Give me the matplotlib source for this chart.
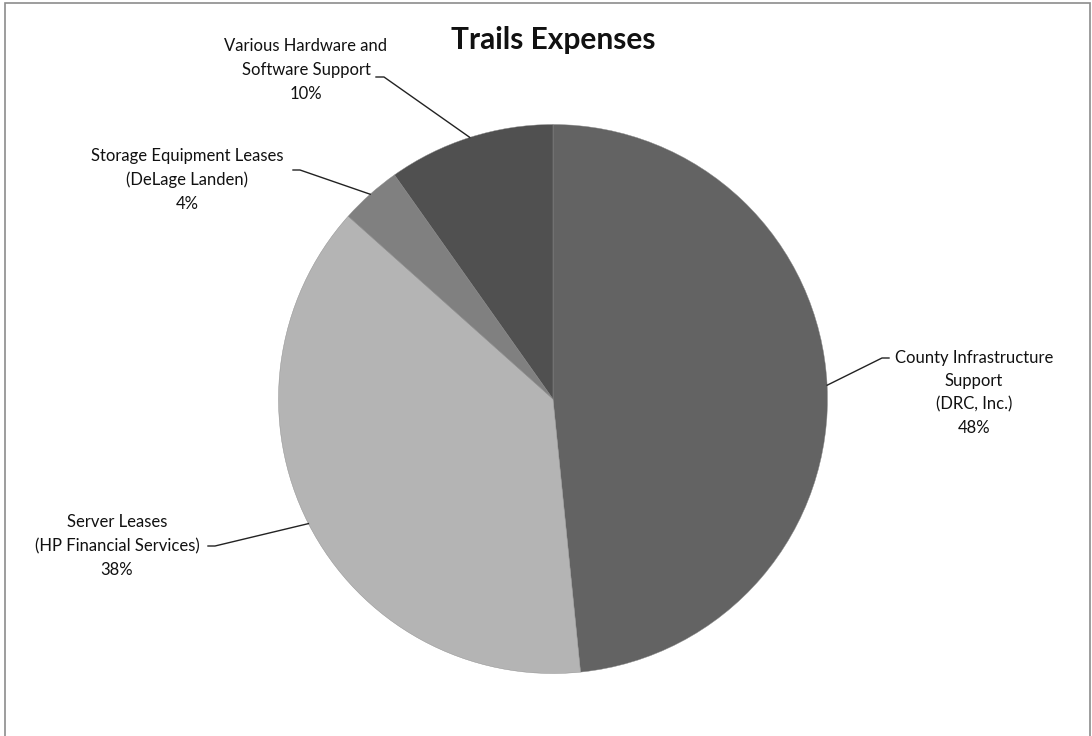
import numpy as np
import matplotlib
matplotlib.use("Agg")
import matplotlib.pyplot as plt
from matplotlib.patches import Rectangle

categories = ["County Infrastructure\nSupport\n(DRC, Inc.)",
              "Server Leases\n(HP Financial Services)",
              "Storage Equipment Leases\n(DeLage Landen)",
              "Various Hardware and\nSoftware Support"]
values = [48.4, 38.2, 3.6, 9.8]
pct_labels = ["48%", "38%", "4%", "10%"]
colors = ["#636363", "#b4b4b4", "#808080", "#505050"]

W, H = 1092, 736
fig = plt.figure(figsize=(W/100, H/100), dpi=100)
plt.rcParams['font.family'] = ['Lato', 'DejaVu Sans']

cx, cy, R = 553, 399, 274.5
ax = fig.add_axes([(cx-R)/W, (H-cy-R)/H, 2*R/W, 2*R/H])
wedges, _ = ax.pie(values, colors=colors, startangle=90, counterclock=False,
                   radius=1, wedgeprops=dict(edgecolor="#8a8a8a", linewidth=0.3))
ax.set_xlim(-1, 1); ax.set_ylim(-1, 1)
ax.set_aspect('equal')
ax.axis('off')

def d(px, py):
    return ((px-cx)/R, (cy-py)/R)

layout = [
    dict(elbow=(882, 358), tick=(889, 358), text=(974, 393)),
    dict(elbow=(215, 546), tick=(208, 546), text=(117, 546)),
    dict(elbow=(300, 170), tick=(293, 170), text=(187, 180)),
    dict(elbow=(384, 77), tick=(376, 77), text=(306, 70)),
]

for w, lab, pct, lay in zip(wedges, categories, pct_labels, layout):
    ang = np.deg2rad((w.theta1 + w.theta2) / 2)
    p0 = (np.cos(ang), np.sin(ang))
    e = d(*lay['elbow']); t = d(*lay['tick'])
    ax.plot([p0[0], e[0], t[0]], [p0[1], e[1], t[1]], color="#222222",
            lw=1.0, clip_on=False)
    tx, ty = d(*lay['text'])
    ax.text(tx, ty, lab + "\n" + pct, ha='center', va='center', fontsize=12,
            linespacing=1.58, color="#111111", clip_on=False)

fig.text(553/W, 1-40/H, "Trails Expenses", ha='center', va='center',
         fontsize=21.5, fontweight='bold', color="#111111")

fig.patches.append(Rectangle((5/W, -0.01), (1090-5)/W, 1-3/H+0.01,
                             transform=fig.transFigure, fill=False,
                             edgecolor="#8c8c8c", linewidth=1.2))

fig.savefig("out.png", dpi=100, facecolor="white")
